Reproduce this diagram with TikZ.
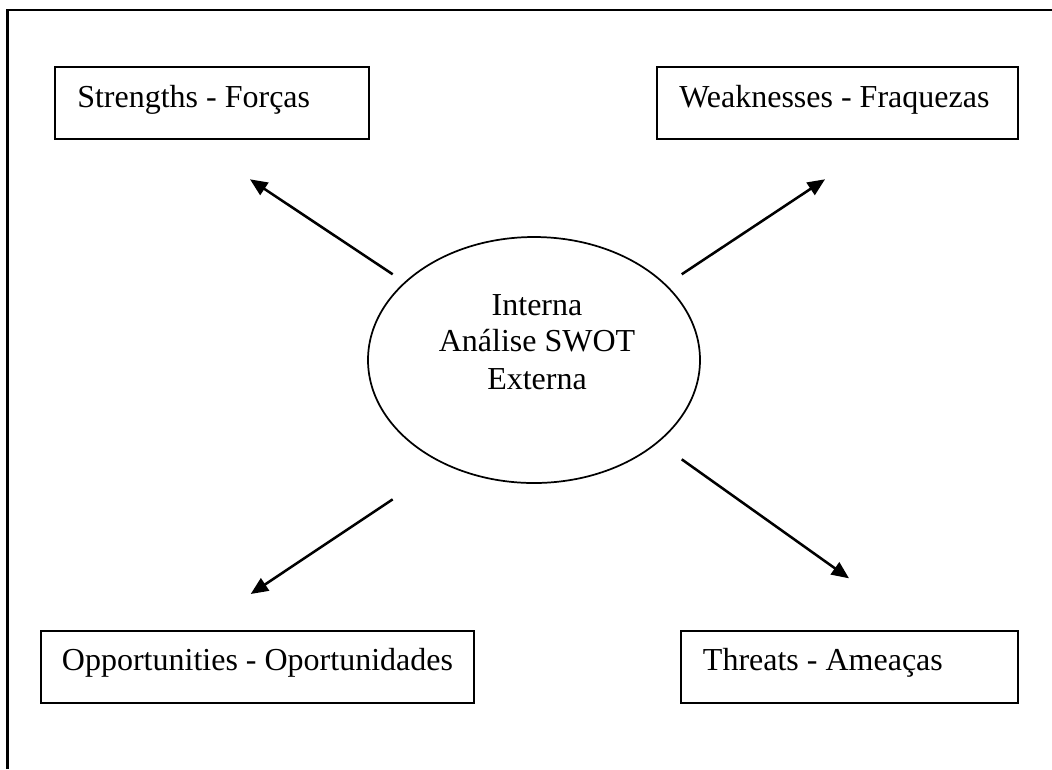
\documentclass[tikz,border=0pt]{standalone}
\usepackage{fontspec}
\setmainfont{Liberation Serif}
\usetikzlibrary{arrows.meta,shapes.geometric}
\tikzset{
  box/.style={draw, line width=1.7pt, rectangle, inner sep=0pt},
  lbl/.style={anchor=base west, inner sep=0pt, font=\fontsize{24pt}{27.75pt}\selectfont},
  arr/.style={line width=1.9pt, -{Triangle[length=13pt, width=11pt]}},
}
\begin{document}
\begin{tikzpicture}[x=0.75pt, y=-0.75pt]
\useasboundingbox (0,0) rectangle (1052,769);
% outer frame (cut at right and bottom)
\coordinate (fb) at (7.5,769);
\coordinate (ft) at (7.5,10);
\coordinate (fr) at (1052,10);
\draw[line width=1.7pt] (fb) -- (ft) -- (fr);
% boxes
\node[box, minimum width=235.5pt, minimum height=54pt] (S) at (212,102.7) {};
\node[box, minimum width=270.75pt, minimum height=54pt] (W) at (837.2,102.7) {};
\node[box, minimum width=325pt, minimum height=54.5pt] (O) at (257.3,667) {};
\node[box, minimum width=252.75pt, minimum height=54.5pt] (T) at (849.2,667) {};
\node[lbl] (St) at (77,107) {Strengths - Forças};
\node[lbl] (Wt) at (679,107) {Weaknesses - Fraquezas};
\node[lbl] (Ot) at (61.7,670.7) {Opportunities - Oportunidades};
\node[lbl] (Tt) at (702.7,670.7) {Threats - Ameaças};
% ellipse
\node[draw, ellipse, line width=1.3pt, minimum width=249pt, minimum height=184.5pt, inner sep=0pt] (E) at (534,360) {};
\node[lbl, anchor=base] (E1) at (537,315) {Interna};
\node[lbl, anchor=base] (E2) at (537,351) {Análise SWOT};
\node[lbl, anchor=base] (E3) at (537,389) {Externa};
% arrow ends
\coordinate (a1) at (392.7,274.3);
\coordinate (b1) at (250,179.3);
\coordinate (a2) at (681.7,274.3);
\coordinate (b2) at (825,179.3);
\coordinate (a3) at (392.7,499.3);
\coordinate (b3) at (250.7,594);
\coordinate (a4) at (681.7,459.3);
\coordinate (b4) at (849,578.3);
\draw[arr] (a1) -- (b1);
\draw[arr] (a2) -- (b2);
\draw[arr] (a3) -- (b3);
\draw[arr] (a4) -- (b4);
\end{tikzpicture}
\end{document}
